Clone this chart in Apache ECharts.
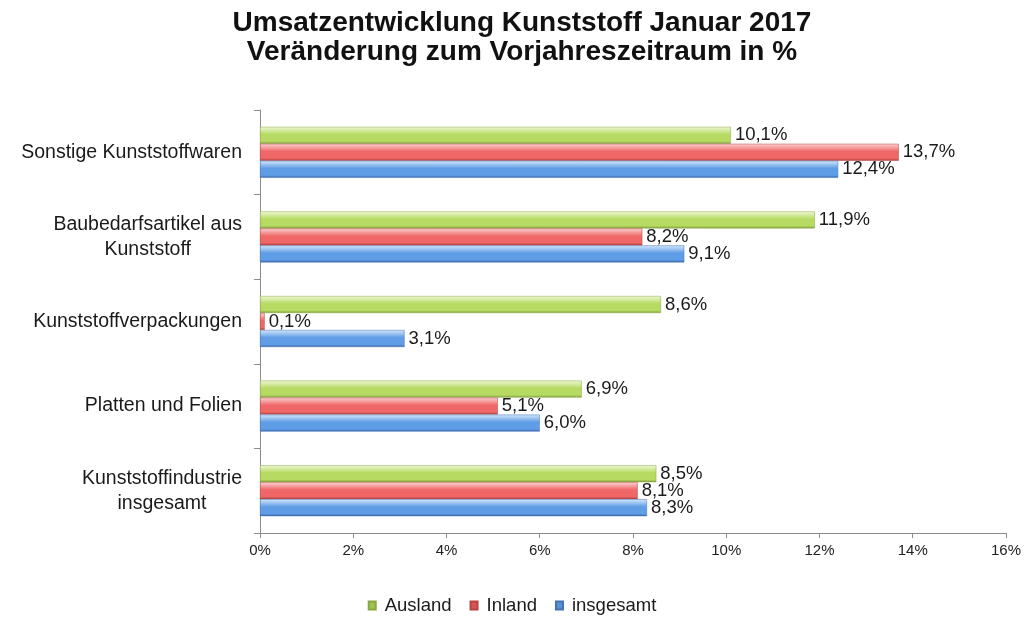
<!DOCTYPE html>
<html>
<head>
<meta charset="utf-8">
<script src="https://cdn.jsdelivr.net/npm/echarts@6/dist/echarts.min.js"></script>
<style>
html,body{margin:0;padding:0;background:#fff;}
#chart{width:1024px;height:623px;}
</style>
</head>
<body>
<div id="chart"></div>
<script>
var titleLines = ['Umsatzentwicklung Kunststoff Januar 2017', 'Veränderung zum Vorjahreszeitraum in %'];
var categories = ['Sonstige Kunststoffwaren', 'Baubedarfsartikel aus\nKunststoff', 'Kunststoffverpackungen', 'Platten und Folien', 'Kunststoffindustrie\ninsgesamt'];
var seriesNames = ['Ausland', 'Inland', 'insgesamt'];
var ausland = [10.1, 11.9, 8.6, 6.9, 8.5];
var inland = [13.7, 8.2, 0.1, 5.1, 8.1];
var insgesamt = [12.4, 9.1, 3.1, 6.0, 8.3];
var xTicks = [0, 2, 4, 6, 8, 10, 12, 14, 16];

function grad(top, mid, bot) {
  return new echarts.graphic.LinearGradient(0, 0, 0, 1, [
    {offset: 0, color: top},
    {offset: 0.45, color: mid},
    {offset: 0.85, color: mid},
    {offset: 1, color: bot}
  ]);
}
var styles = [
  {fill: grad('#f0f9d6', '#b6da62', '#7e9c3a'), border: '#8aa845', icon: '#9bc44c'},
  {fill: grad('#fbd3d3', '#ef6767', '#a83a3a'), border: '#b84444', icon: '#d95454'},
  {fill: grad('#d5e8fb', '#5f9de6', '#3a66a8'), border: '#4473b4', icon: '#5b8fd6'}
];
var datas = [ausland, inland, insgesamt];

var series = seriesNames.map(function (n, i) {
  return {
    name: n,
    type: 'bar',
    data: datas[i],
    barWidth: 17,
    barGap: '0%',
    itemStyle: {color: styles[i].fill, borderColor: styles[i].border, borderWidth: 0.5},
    label: {
      show: true,
      position: 'right',
      distance: 4,
      color: '#1a1a1a',
      fontFamily: 'Liberation Sans',
      fontSize: 18.5,
      formatter: function (p) { return p.value.toFixed(1).replace('.', ',') + '%'; }
    }
  };
});

var chart = echarts.init(document.getElementById('chart'), null, {renderer: 'canvas'});
chart.setOption({
  backgroundColor: '#ffffff',
  animation: false,
  title: {
    text: titleLines.join('\n'),
    left: 517,
    textAlign: 'center',
    top: 4,
    textStyle: {fontFamily: 'Liberation Sans', fontWeight: 'bold', fontSize: 28, color: '#111', lineHeight: 29}
  },
  legend: {
    bottom: 3,
    left: 'center',
    itemWidth: 7,
    itemHeight: 8,
    itemGap: 18,
    icon: 'rect',
    data: seriesNames.map(function (n, i) { return {name: n, itemStyle: {color: styles[i].icon}}; }),
    textStyle: {fontFamily: 'Liberation Sans', fontSize: 18.5, color: '#1a1a1a', padding: [0, 0, 0, 4]}
  },
  grid: {left: 260, right: 17, top: 110, bottom: 90, containLabel: false},
  xAxis: {
    type: 'value',
    min: 0, max: 16, interval: 2,
    splitLine: {show: false},
    axisLine: {show: true, lineStyle: {color: '#8c8c8c', width: 1}},
    axisTick: {show: true, length: 5, lineStyle: {color: '#8c8c8c'}},
    axisLabel: {
      color: '#222', fontFamily: 'Liberation Sans', fontSize: 15, margin: 10,
      formatter: function (v) { return xTicks.indexOf(v) >= 0 ? v + '%' : ''; }
    }
  },
  yAxis: {
    type: 'category',
    data: categories,
    inverse: true,
    axisLine: {show: true, lineStyle: {color: '#8c8c8c', width: 1}},
    axisTick: {show: true, length: 6, lineStyle: {color: '#8c8c8c'}},
    axisLabel: {
      margin: 18,
      color: '#1a1a1a',
      fontFamily: 'Liberation Sans',
      fontSize: 19.5,
      lineHeight: 25,
      formatter: function (v) {
        return v.split('\n').map(function (l) { return '{c|' + l + '}'; }).join('\n');
      },
      rich: {c: {align: 'center', fontFamily: 'Liberation Sans', fontSize: 19.5, color: '#1a1a1a', lineHeight: 25}}
    }
  },
  series: series
});
</script>
</body>
</html>
